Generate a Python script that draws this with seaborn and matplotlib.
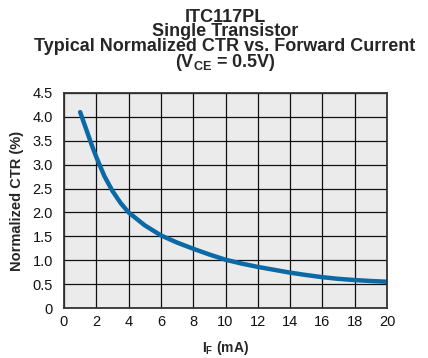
import numpy as np
import pandas as pd
import matplotlib
matplotlib.use("Agg")
import matplotlib.pyplot as plt
import seaborn as sns

# values
forward_current = [1, 1.25, 1.5, 1.75, 2, 2.5, 3, 3.5, 4, 5, 6, 7, 8, 9, 10,
                   11, 12, 13, 14, 15, 16, 17, 18, 19, 20]
norm_ctr = [4.10, 3.86, 3.62, 3.38, 3.16, 2.76, 2.45, 2.20, 2.00, 1.73, 1.52, 1.37, 1.24, 1.12, 1.01,
            0.93, 0.86, 0.80, 0.74, 0.69, 0.645, 0.61, 0.585, 0.565, 0.55]

x_ticks = [0, 2, 4, 6, 8, 10, 12, 14, 16, 18, 20]
y_ticks = [0, 0.5, 1.0, 1.5, 2.0, 2.5, 3.0, 3.5, 4.0, 4.5]
y_labels = ["0", "0.5", "1.0", "1.5", "2.0", "2.5", "3.0", "3.5", "4.0", "4.5"]
title_lines = ["ITC117PL", "Single Transistor", "Typical Normalized CTR vs. Forward Current",
               r"($\mathbf{V_{CE}}$ = 0.5V)"]

sns.set_style("white")
plt.rcParams["font.family"] = ["Liberation Sans", "DejaVu Sans"]
plt.rcParams["mathtext.fontset"] = "custom"
plt.rcParams["mathtext.bf"] = "Liberation Sans:bold"
plt.rcParams["mathtext.rm"] = "Liberation Sans"

df = pd.DataFrame({"IF": forward_current, "CTR": norm_ctr})

fig = plt.figure(figsize=(4.28, 3.58), dpi=100)
ax = fig.add_axes([64 / 428, 1 - 308 / 358, (387 - 64) / 428, (308 - 93) / 358])
ax.set_facecolor("#ebebeb")

sns.lineplot(data=df, x="IF", y="CTR", ax=ax, color="#0b6aa6", linewidth=3.2)

ax.set_xlim(0, 20)
ax.set_ylim(0, 4.5)
ax.set_xticks(x_ticks)
ax.set_yticks(y_ticks)
ax.set_yticklabels(y_labels)
ax.grid(True, color="#111111", linewidth=0.9)
ax.set_axisbelow(True)
for s in ax.spines.values():
    s.set_color("#333333")
    s.set_linewidth(1.3)
ax.tick_params(length=0, labelsize=10.5, colors="#111111")
ax.tick_params(axis="x", pad=5)
ax.tick_params(axis="y", pad=8)

ax.set_xlabel(r"$\mathbf{I_F}$ (mA)", fontsize=10, fontweight="bold", labelpad=7)
ax.set_ylabel("Normalized CTR (%)", fontsize=10.5, fontweight="bold", labelpad=6)

fig.text(225 / 428, 1 - 9 / 358, "\n".join(title_lines), ha="center", va="top",
         fontsize=13, fontweight="bold", linespacing=0.8, multialignment="center")

fig.savefig("out.png", dpi=100)
